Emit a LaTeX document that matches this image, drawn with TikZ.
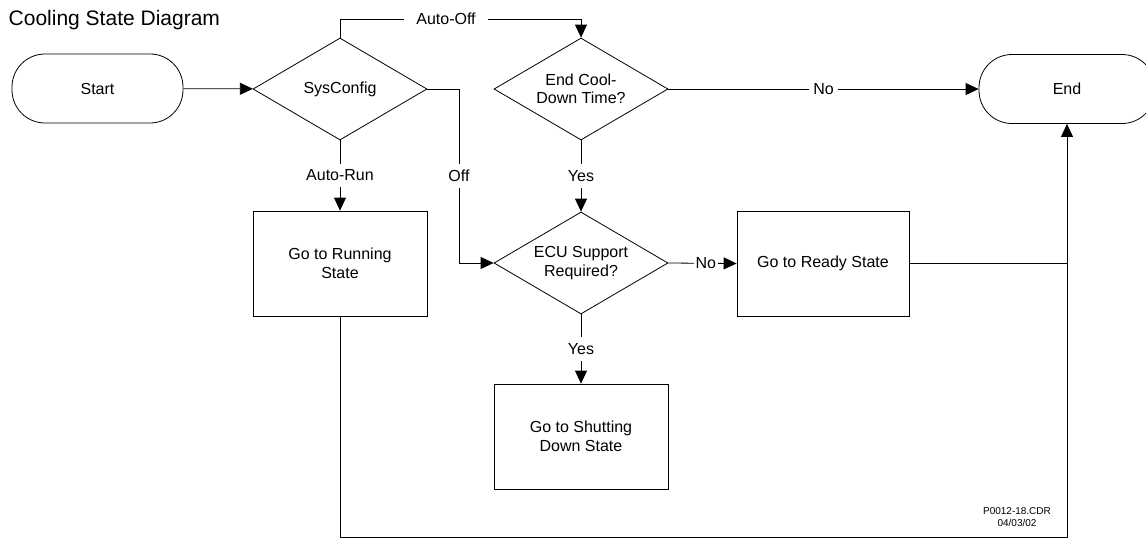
\documentclass[tikz,border=0pt]{standalone}
\usepackage{fontspec}
\setmainfont{Liberation Sans}
\usetikzlibrary{shapes.geometric,arrows.meta}

\tikzset{
 decision/.style={diamond,draw,aspect=1.7,inner sep=0pt,minimum width=174pt,minimum height=102pt,align=center},
 statebox/.style={rectangle,draw,minimum width=174pt,minimum height=105pt,align=center},
 terminal/.style={rectangle,draw,rounded corners=33pt,minimum width=171pt,minimum height=69pt},
 flow/.style={-{Triangle[length=13pt,width=12pt]}},
 cut/.style={fill=white,inner sep=6pt}
}

\begin{document}
\begin{tikzpicture}[x=1pt,y=-1pt,line width=0.8pt,font=\fontsize{16}{18.5}\selectfont]
\useasboundingbox (0,0) rectangle (1146,539);
%title
\node[anchor=west,font=\fontsize{21}{24}\selectfont] (title) at (5,20) {Cooling State Diagram};
%shapes
\node[terminal] (start) at (97.5,88.5) {Start};
\node[decision] (sys) at (340,89) {SysConfig};
\node[decision] (cool) at (581,89) {End Cool-\\Down Time?};
\node[terminal,minimum width=176pt] (finish) at (1067,89) {End};
\node[statebox] (run) at (340,263.5) {Go to Running\\State};
\node[decision] (ecu) at (581,263) {ECU Support\\Required?};
\node[statebox,minimum width=172pt] (ready) at (823,263.5) {Go to Ready State};
\node[statebox] (shut) at (581,436.5) {Go to Shutting\\Down State};
\node[font=\fontsize{10}{12}\selectfont,align=center] (stamp) at (1017,517) {P0012-18.CDR\\04/03/02};
%bends
\coordinate (offtop) at (581,19);
\coordinate (offbend) at (459,89);
\coordinate (floor) at (1067,537);
\coordinate (join) at (ready.east -| finish.south);
%connectors
\draw[flow] (start) -- (sys);
\draw[flow] (sys.north) |- node[cut,pos=0.72,inner xsep=12pt]{Auto-Off} (offtop) -- (cool.north);
\draw[flow] (cool.east) -- node[cut,inner xsep=4pt]{No} (finish.west);
\draw[flow] (cool.south) -- node[cut]{Yes} (ecu.north);
\draw[flow] (sys.east) -- (offbend) |- node[cut,pos=0.25]{Off} (ecu.west);
\draw[flow] (sys.south) -- node[cut]{Auto-Run} (run.north);
\draw[flow] (ecu.east) -- node[cut,pos=0.55,inner xsep=2pt]{No} (ready.west);
\draw[flow] (ecu.south) -- node[cut]{Yes} (shut.north);
\draw (ready.east) -- (join);
\draw[flow] (run.south) |- (floor) -- (finish.south);
\end{tikzpicture}
\end{document}
